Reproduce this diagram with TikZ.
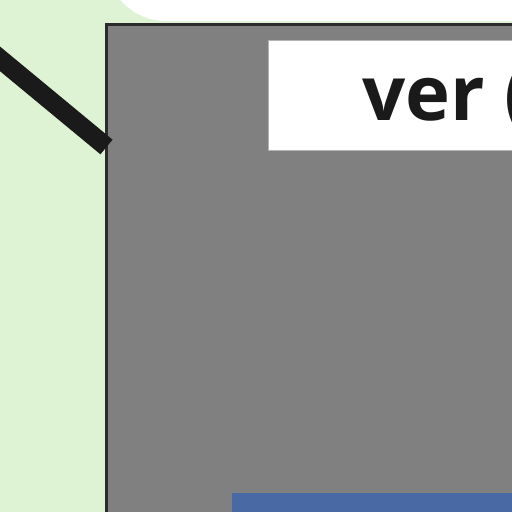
\documentclass[tikz,border=0pt]{standalone}
\usepackage{fontspec}
\setsansfont{Open Sans}
\usetikzlibrary{positioning}
\definecolor{bggreen}{HTML}{DDF3D3}
\definecolor{panelgray}{HTML}{808080}
\definecolor{paneledge}{HTML}{2B2B2B}
\definecolor{wireblack}{HTML}{1A1A1A}
\definecolor{barblue}{HTML}{4869A3}
\definecolor{boxedge}{HTML}{B4B4B4}
\tikzset{
  panel/.style={draw=paneledge,fill=panelgray,line width=3pt,inner sep=0pt,outer sep=0pt,
    anchor=north west,minimum width=600pt,minimum height=600pt},
  titlebox/.style={draw=boxedge,fill=white,line width=1pt,inner sep=0pt,outer sep=0pt,
    anchor=north west,minimum width=400pt,minimum height=110pt},
  titletext/.style={font=\fontsize{76}{90}\selectfont\sffamily\bfseries,text=wireblack,
    inner sep=0pt,anchor=base west},
  wire/.style={draw=wireblack,line width=19pt},
  bar/.style={fill=barblue,inner sep=0pt,outer sep=0pt,anchor=north west,
    minimum width=400pt,minimum height=100pt}
}
\begin{document}
\begin{tikzpicture}[x=1pt,y=-1pt]
\useasboundingbox (0,0) rectangle (512,512);
\clip (0,0) rectangle (512,512);
\fill[bggreen] (0,0) rectangle (512,512);
% white header above the panel
\fill[white,rounded corners=60pt] (106,-300) rectangle (700,21);
\node[panel] (panel) at (106.5,24.5) {};
\node[titlebox] (titlebox) at (268,40) {};
\node[titletext] (title) at (362,120) {ver (};
\node[bar] (bar) at (232,493) {};
% connector coming in from the left
\coordinate (wirestart) at (-50,17.5);
\draw[wire] (wirestart) -- (panel.west |- 0,147);
\end{tikzpicture}
\end{document}
